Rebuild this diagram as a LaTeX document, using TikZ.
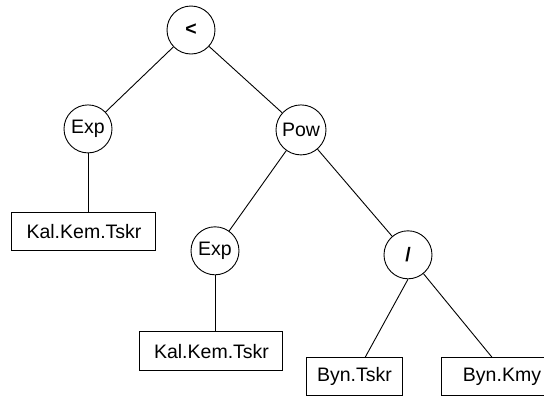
\documentclass[tikz,border=0pt]{standalone}
\usepackage{fontspec}
\setmainfont{Liberation Sans}
\usetikzlibrary{positioning}
\tikzset{
	node distance=50pt and 50pt,
	every node/.style= {
		font=\fontsize{19.5}{23}\selectfont
	},
	op/.style= {
		circle,
		draw,
		line width=0.9pt,
		minimum size=48pt,
		inner sep=0pt
	},
	leaf/.style= {
		rectangle,
		draw,
		line width=1pt,
		minimum height=38pt,
		inner xsep=8pt
	},
	edge/.style= {
		line width=0.9pt
	}
}

\begin{document}
\begin{tikzpicture}
	
	\useasboundingbox (-191pt,30pt) rectangle (353pt,-367pt);
	
	\node (lessThan)[op]{\textbf{<}};
	
	\node (expLeft)[op, below=50pt of lessThan, xshift=-103pt]{Exp};
	\node (pow)[op, minimum size=50pt, below=50pt of lessThan, xshift=110pt]{Pow};
	\draw[edge](lessThan) to (expLeft);
	\draw[edge](lessThan) to (pow);
	
	\node (kalLeft)[leaf, minimum width=144pt, below=59pt of expLeft, xshift=-4pt]{Kal.Kem.Tskr};
	\draw[edge](expLeft) to (expLeft |- kalLeft.north);
	
	\node (expRight)[op, below=71pt of pow, xshift=-86pt]{Exp};
	\node (divide)[op, below=75pt of pow, xshift=107pt]{\textbf{/}};
	\draw[edge](pow) to (expRight);
	\draw[edge](pow) to (divide);
	
	\node (kalRight)[leaf, minimum width=143pt, minimum height=39pt, below=56pt of expRight, xshift=-3.5pt]{Kal.Kem.Tskr};
	\draw[edge](expRight) to (expRight |- kalRight.north);
	
	% leaves of the division
	\node (bynTskr)[leaf, minimum width=95pt, below=78pt of divide, xshift=-53.5pt]{Byn.Tskr};
	\node (bynKmy)[leaf, minimum width=122pt, below=78pt of divide, xshift=94pt]{Byn.Kmy};
	\draw[edge](divide.south) to (bynTskr);
	\draw[edge](divide) to ([xshift=-10pt]bynKmy.north);
	
\end{tikzpicture}
\end{document}
